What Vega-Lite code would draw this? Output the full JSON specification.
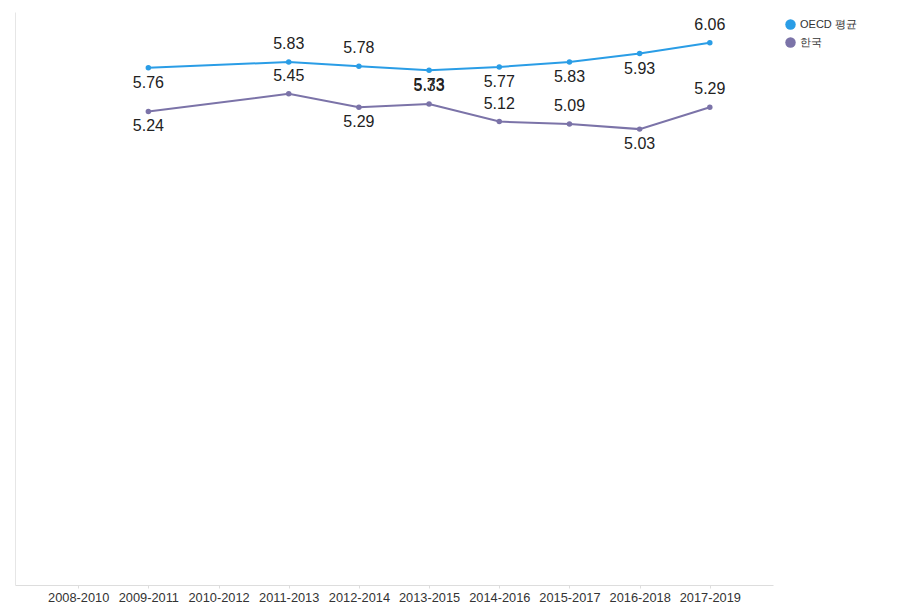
{
  "$schema": "https://vega.github.io/schema/vega-lite/v6.json",
  "autosize": {"type": "none"},
  "padding": {"left": 15, "top": 12, "right": 124, "bottom": 23},
  "width": 758,
  "height": 573,
  "background": "white",
  "config": {
    "view": {"stroke": null},
    "font": "Liberation Sans"
  },
  "data": {
    "values": [
      {"period": "2009-2011", "series": "OECD 평균", "value": 5.76},
      {"period": "2011-2013", "series": "OECD 평균", "value": 5.83},
      {"period": "2012-2014", "series": "OECD 평균", "value": 5.78},
      {"period": "2013-2015", "series": "OECD 평균", "value": 5.73},
      {"period": "2014-2016", "series": "OECD 평균", "value": 5.77},
      {"period": "2015-2017", "series": "OECD 평균", "value": 5.83},
      {"period": "2016-2018", "series": "OECD 평균", "value": 5.93},
      {"period": "2017-2019", "series": "OECD 평균", "value": 6.06},
      {"period": "2009-2011", "series": "한국", "value": 5.24},
      {"period": "2011-2013", "series": "한국", "value": 5.45},
      {"period": "2012-2014", "series": "한국", "value": 5.29},
      {"period": "2013-2015", "series": "한국", "value": 5.33},
      {"period": "2014-2016", "series": "한국", "value": 5.12},
      {"period": "2015-2017", "series": "한국", "value": 5.09},
      {"period": "2016-2018", "series": "한국", "value": 5.03},
      {"period": "2017-2019", "series": "한국", "value": 5.29}
    ]
  },
  "encoding": {
    "x": {
      "field": "period",
      "type": "ordinal",
      "sort": null,
      "scale": {
        "type": "point",
        "padding": 0.9,
        "domain": ["2008-2010", "2009-2011", "2010-2012", "2011-2013", "2012-2014", "2013-2015", "2014-2016", "2015-2017", "2016-2018", "2017-2019"]
      },
      "axis": {
        "title": null,
        "labelAngle": 0,
        "labelFontSize": 12.8,
        "labelColor": "#333333",
        "labelPadding": 3,
        "tickSize": 3,
        "tickColor": "#dddddd",
        "domainColor": "#dddddd",
        "grid": false
      }
    },
    "y": {
      "field": "value",
      "type": "quantitative",
      "scale": {"domain": [-0.4, 6.425], "nice": false, "zero": false},
      "axis": {
        "title": null,
        "labels": false,
        "ticks": false,
        "grid": false,
        "domainColor": "#e6e6e6"
      }
    }
  },
  "layer": [
    {
      "mark": {"type": "line", "strokeWidth": 2},
      "encoding": {
        "color": {
          "field": "series",
          "type": "nominal",
          "scale": {"domain": ["OECD 평균", "한국"], "range": ["#2A9DE6", "#7B73A8"]},
          "legend": {
            "title": null,
            "orient": "none",
            "legendX": 770,
            "legendY": 7,
            "symbolType": "circle",
            "symbolSize": 110,
            "symbolStrokeWidth": 0,
            "labelFontSize": 11,
            "labelColor": "#333333",
            "rowPadding": 6,
            "labelOffset": 4
          }
        }
      }
    },
    {
      "mark": {"type": "point", "filled": true, "size": 30, "opacity": 1},
      "encoding": {
        "color": {
          "field": "series",
          "type": "nominal",
          "scale": {"domain": ["OECD 평균", "한국"], "range": ["#2A9DE6", "#7B73A8"]},
          "legend": {
            "title": null,
            "orient": "none",
            "legendX": 770,
            "legendY": 7,
            "symbolType": "circle",
            "symbolSize": 110,
            "symbolStrokeWidth": 0,
            "labelFontSize": 11,
            "labelColor": "#333333",
            "rowPadding": 6,
            "labelOffset": 4
          }
        }
      }
    },
    {
      "transform": [
        {"filter": {"or": [
          {"and": [{"field": "series", "equal": "OECD 평균"}, {"field": "period", "oneOf": ["2011-2013", "2012-2014", "2017-2019"]}]},
          {"and": [{"field": "series", "equal": "한국"}, {"field": "period", "oneOf": ["2011-2013", "2013-2015", "2014-2016", "2015-2017", "2017-2019"]}]}
        ]}}
      ],
      "mark": {"type": "text", "fontSize": 16, "color": "#222222", "dy": -18, "baseline": "middle"},
      "encoding": {"text": {"field": "value", "type": "quantitative", "format": ".2f"}}
    },
    {
      "transform": [
        {"filter": {"or": [
          {"and": [{"field": "series", "equal": "OECD 평균"}, {"field": "period", "oneOf": ["2009-2011", "2013-2015", "2014-2016", "2015-2017", "2016-2018"]}]},
          {"and": [{"field": "series", "equal": "한국"}, {"field": "period", "oneOf": ["2009-2011", "2012-2014", "2016-2018"]}]}
        ]}}
      ],
      "mark": {"type": "text", "fontSize": 16, "color": "#222222", "dy": 15, "baseline": "middle"},
      "encoding": {"text": {"field": "value", "type": "quantitative", "format": ".2f"}}
    }
  ]
}
